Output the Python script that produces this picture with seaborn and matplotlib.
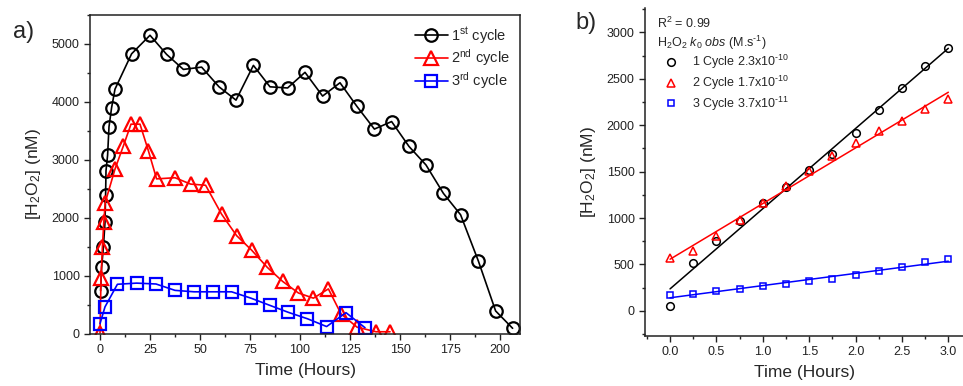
import numpy as np
import pandas as pd
import matplotlib
matplotlib.use("Agg")
import matplotlib.pyplot as plt
from matplotlib.ticker import MultipleLocator
from matplotlib.lines import Line2D
import seaborn as sns

sns.set_theme(style="ticks")
plt.rcParams['font.family'] = ['Liberation Sans', 'DejaVu Sans']
plt.rcParams['mathtext.fontset'] = 'custom'
plt.rcParams['mathtext.rm'] = 'Liberation Sans'
plt.rcParams['mathtext.it'] = 'Liberation Sans:italic'
plt.rcParams['mathtext.bf'] = 'Liberation Sans:bold'

# ---------------- Panel a data ----------------
c1_t = [0.3, 0.8, 1.7, 2.5, 2.8, 3.0, 3.8, 4.5, 5.8, 7.5, 15.8, 25, 33.3, 41.7, 50.8,
        59.5, 68, 76.7, 85, 93.8, 102.5, 111.3, 120, 128.5, 137.2, 145.8, 154.5, 163,
        171.7, 180.3, 189.2, 197.8, 206.3]
c1_y = [740, 1140, 1490, 1920, 2390, 2810, 3080, 3570, 3900, 4220, 4830, 5150, 4820, 4560,
        4600, 4260, 4030, 4630, 4260, 4240, 4510, 4100, 4330, 3920, 3530, 3660, 3230, 2910,
        2420, 2050, 1250, 390, 90]

c2_t = [0.0, 0.5, 1.2, 1.9, 2.6, 7.5, 11.7, 15.5, 20, 24.2, 28.3, 37.5, 45.3, 52.8, 60.8,
        68.3, 75.8, 83.7, 91.3, 99.2, 106.7, 114.2, 120.5, 128.5, 138, 145]
c2_y = [10, 950, 1490, 1920, 2260, 2840, 3240, 3615, 3615, 3155, 2670, 2690, 2580, 2560,
        2060, 1690, 1440, 1140, 900, 700, 610, 770, 340, 110, 30, 30]

c3_t = [0, 2.5, 8.7, 18.3, 28, 37.5, 47, 56.3, 65.8, 75.5, 85, 94.2, 103.7, 113.3, 123, 132.5]
c3_y = [170, 460, 850, 870, 855, 745, 720, 720, 720, 610, 485, 365, 255, 120, 360, 100]

legend_a = ["1$^{\\mathregular{st}}$ cycle", "2$^{\\mathregular{nd}}$ cycle", "3$^{\\mathregular{rd}}$ cycle"]

# ---------------- Panel b data ----------------
tb = [0.0, 0.25, 0.5, 0.75, 1.0, 1.25, 1.5, 1.75, 2.0, 2.25, 2.5, 2.75, 3.0]
b1 = [55, 517, 751, 965, 1157, 1335, 1516, 1689, 1911, 2163, 2403, 2637, 2827]
b2 = [575, 647, 805, 980, 1164, 1344, 1509, 1667, 1804, 1936, 2047, 2170, 2278]
b3 = [169, 180, 212, 241, 266, 295, 320, 345, 385, 431, 474, 525, 560]
legend_b = ["1 Cycle 2.3x10$^{\\text{-10}}$",
            "2 Cycle 1.7x10$^{\\text{-10}}$",
            "3 Cycle 3.7x10$^{\\text{-11}}$"]

colors = ["black", "#ff0000", "#0000ff"]
markers = ["o", "^", "s"]

fig = plt.figure(figsize=(9.63, 3.86), dpi=100)
axa = fig.add_axes([90/963, 1-333.5/386, 430/963, (333.5-15)/386])
axb = fig.add_axes([645/963, 1-336/386, 318/963, (336-8)/386])

# ---------- panel a ----------
handles = []
for t, y, c, m, lab in zip([c1_t, c2_t, c3_t], [c1_y, c2_y, c3_y], colors, markers, legend_a):
    ms = 10 if m == "^" else 9
    sns.lineplot(x=t, y=y, ax=axa, color=c, marker=m, markersize=ms,
                 markerfacecolor="none", markeredgecolor=c, markeredgewidth=1.6,
                 linewidth=1.2, sort=False, estimator=None)
    handles.append(Line2D([], [], color=c, marker=m, markersize=ms, markerfacecolor="none",
                          markeredgecolor=c, markeredgewidth=1.6, linewidth=1.2))
axa.set_xlim(-5, 210)
axa.set_ylim(0, 5500)
axa.xaxis.set_major_locator(MultipleLocator(25))
axa.xaxis.set_minor_locator(MultipleLocator(12.5))
axa.yaxis.set_major_locator(MultipleLocator(1000))
axa.yaxis.set_minor_locator(MultipleLocator(500))
axa.legend(handles, legend_a, loc="upper right", frameon=False, fontsize=10.5,
           handlelength=2.3, labelspacing=0.12, handletextpad=0.2, borderaxespad=0.3)
axa.set_xlabel("Time (Hours)", fontsize=12.5, labelpad=5)
axa.set_ylabel("[H$_{\\mathregular{2}}$O$_{\\mathregular{2}}$] (nM)", fontsize=12.5, labelpad=6)
for s in axa.spines.values():
    s.set_linewidth(1.1)
    s.set_color("#222222")
axa.tick_params(which="both", direction="out", top=False, right=False, labelsize=9,
                colors="#222222", labelcolor="#222222")
axa.tick_params(which="major", length=4, width=1)
axa.tick_params(which="minor", length=2.5, width=1)
fig.text(13/963, 1-32/386, "a)", fontsize=17, va="center", ha="left")

# ---------- panel b ----------
hb = []
for y, c, m in zip([b1, b2, b3], colors, markers):
    ms = 6 if m == "^" else 5.5
    if m == "s":
        ms = 5
    sns.regplot(x=tb, y=y, ax=axb, scatter=False, ci=None, color=c,
                line_kws=dict(linewidth=1.1))
    sns.lineplot(x=tb, y=y, ax=axb, color=c, marker=m, markersize=ms, linestyle="none",
                 markerfacecolor="none", markeredgecolor=c, markeredgewidth=1.1,
                 sort=False, estimator=None)
    hb.append(Line2D([], [], color=c, marker=m, markersize=ms, linestyle="none",
                     markerfacecolor="none", markeredgecolor=c, markeredgewidth=1.1))
axb.set_xlim(-0.27, 3.158)
axb.set_ylim(-270, 3262)
axb.xaxis.set_major_locator(MultipleLocator(0.5))
axb.xaxis.set_minor_locator(MultipleLocator(0.25))
axb.yaxis.set_major_locator(MultipleLocator(500))
axb.yaxis.set_minor_locator(MultipleLocator(250))
axb.xaxis.set_major_formatter(matplotlib.ticker.FormatStrFormatter("%.1f"))
sns.despine(ax=axb)
for s in axb.spines.values():
    s.set_linewidth(1.1)
    s.set_color("#222222")
axb.tick_params(which="both", direction="out", labelsize=9, colors="#222222",
                labelcolor="#222222")
axb.tick_params(which="major", length=4, width=1)
axb.tick_params(which="minor", length=2.5, width=1)
axb.set_xlabel("Time (Hours)", fontsize=12.5, labelpad=5)
axb.set_ylabel("[H$_{\\mathregular{2}}$O$_{\\mathregular{2}}$] (nM)", fontsize=12.5, labelpad=6)
axb.text(0.038, 0.952, "R$^{\\mathregular{2}}$ = 0.99", transform=axb.transAxes, fontsize=9,
         va="center", ha="left")
axb.text(0.038, 0.893, "H$_{\\mathregular{2}}$O$_{\\mathregular{2}}$ $k_{\\mathregular{0}}$ $obs$ (M.s$^{\\text{-1}}$)",
         transform=axb.transAxes, fontsize=9, va="center", ha="left")
axb.legend(hb, legend_b, loc="upper left", bbox_to_anchor=(0.05, 0.87), frameon=False,
           fontsize=9, handlelength=1.2, handletextpad=1.1, labelspacing=0.2,
           borderaxespad=0.0, borderpad=0.2)
fig.text(575/963, 1-23/386, "b)", fontsize=17, va="center", ha="left")

fig.savefig("out.png", dpi=100)
